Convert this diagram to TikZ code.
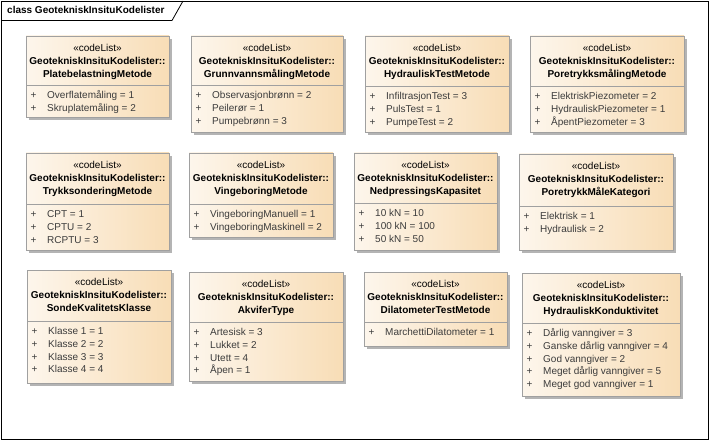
\documentclass[tikz,border=0pt]{standalone}
\usepackage{fontspec}
\setmainfont{Liberation Sans}
\definecolor{boxl}{HTML}{FDF6EC}
\definecolor{boxr}{HTML}{F8DDB6}
\definecolor{boxline}{HTML}{A0A0A0}
\definecolor{shadowc}{HTML}{B4B4B4}
\definecolor{itemc}{HTML}{3C3C3C}
\tikzset{
  hdr/.style={inner sep=0pt,text height=7.5pt,text depth=2pt,font=\fontsize{10}{12}\selectfont},
  hdrb/.style={hdr,font=\fontsize{10}{12}\selectfont\bfseries},
  item/.style={inner sep=0pt,anchor=west,text height=7.5pt,text depth=2pt,text=itemc,font=\fontsize{10}{12}\selectfont},
  boxedge/.style={draw=boxline,line width=0.8pt},
}
\newcommand{\codelist}[8]{%
  \fill[shadowc] (#2+3,#3+3) rectangle (#4+3,#5+3);
  \shade[left color=boxl,right color=boxr] (#2,#3) rectangle (#4,#5);
  \draw[boxedge] (#2,#3) rectangle (#4,#5);
  \draw[boxedge] (#2,#6) -- (#4,#6);
  \node[hdr] (#1s) at ({(#2+#4)/2},#3+12.5) {«codeList»};
  \node[hdrb] (#1p) at ({(#2+#4)/2},#3+25.5) {GeotekniskInsituKodelister::};
  \node[hdrb] (#1n) at ({(#2+#4)/2},#3+38.5) {#7};
  \foreach \t [count=\i] in {#8} {
    \node[item] (#1plus\i) at (#2+4.5,#6+10.5+12.9*\i-12.9) {+};
    \node[item] (#1a\i) at (#2+21,#6+10.5+12.9*\i-12.9) {\t};
  }%
}
\begin{document}
\begin{tikzpicture}[x=1pt,y=-1pt]
\useasboundingbox (0,0) rectangle (710,441);
\draw[black,line width=0.8pt] (1,1) rectangle (708,439);
\draw[black,line width=0.8pt] (1,20.5) -- (172,20.5) -- (183,1);
\node[hdrb,anchor=west] (title) at (7,11) {class GeotekniskInsituKodelister};
\codelist{b1}{26}{36}{169}{117}{85}{PlatebelastningMetode}{Overflatemåling = 1,Skruplatemåling = 2}
\codelist{b2}{191}{36}{343}{132}{85}{GrunnvannsmålingMetode}{Observasjonbrønn = 2,Peilerør = 1,Pumpebrønn = 3}
\codelist{b3}{365}{36}{509}{132}{86}{HydrauliskTestMetode}{InfiltrasjonTest = 3,PulsTest = 1,PumpeTest = 2}
\codelist{b4}{530}{36}{684}{132}{86}{PoretrykksmålingMetode}{ElektriskPiezometer = 2,HydrauliskPiezometer = 1,ÅpentPiezometer = 3}
\codelist{b5}{26}{153}{169}{250}{204}{TrykksonderingMetode}{CPT = 1,CPTU = 2,RCPTU = 3}
\codelist{b6}{189}{153}{333}{237}{204}{VingeboringMetode}{VingeboringManuell = 1,VingeboringMaskinell = 2}
\codelist{b7}{354}{153}{497}{250}{203}{NedpressingsKapasitet}{10 kN = 10,100 kN = 100,50 kN = 50}
\codelist{b8}{519}{154}{673}{250}{206}{PoretrykkMåleKategori}{Elektrisk = 1,Hydraulisk = 2}
\codelist{b9}{27}{270}{171}{383}{321}{SondeKvalitetsKlasse}{Klasse 1 = 1,Klasse 2 = 2,Klasse 3 = 3,Klasse 4 = 4}
\codelist{b10}{189}{272}{343}{381}{322}{AkviferType}{Artesisk = 3,Lukket = 2,Utett = 4,Åpen = 1}
\codelist{b11}{364}{272}{507}{346}{322}{DilatometerTestMetode}{MarchettiDilatometer = 1}
\codelist{b12}{522}{273}{680}{396}{323}{HydrauliskKonduktivitet}{Dårlig vanngiver = 3,Ganske dårlig vanngiver = 4,God vanngiver = 2,Meget dårlig vanngiver = 5,Meget god vanngiver = 1}
\end{tikzpicture}
\end{document}
